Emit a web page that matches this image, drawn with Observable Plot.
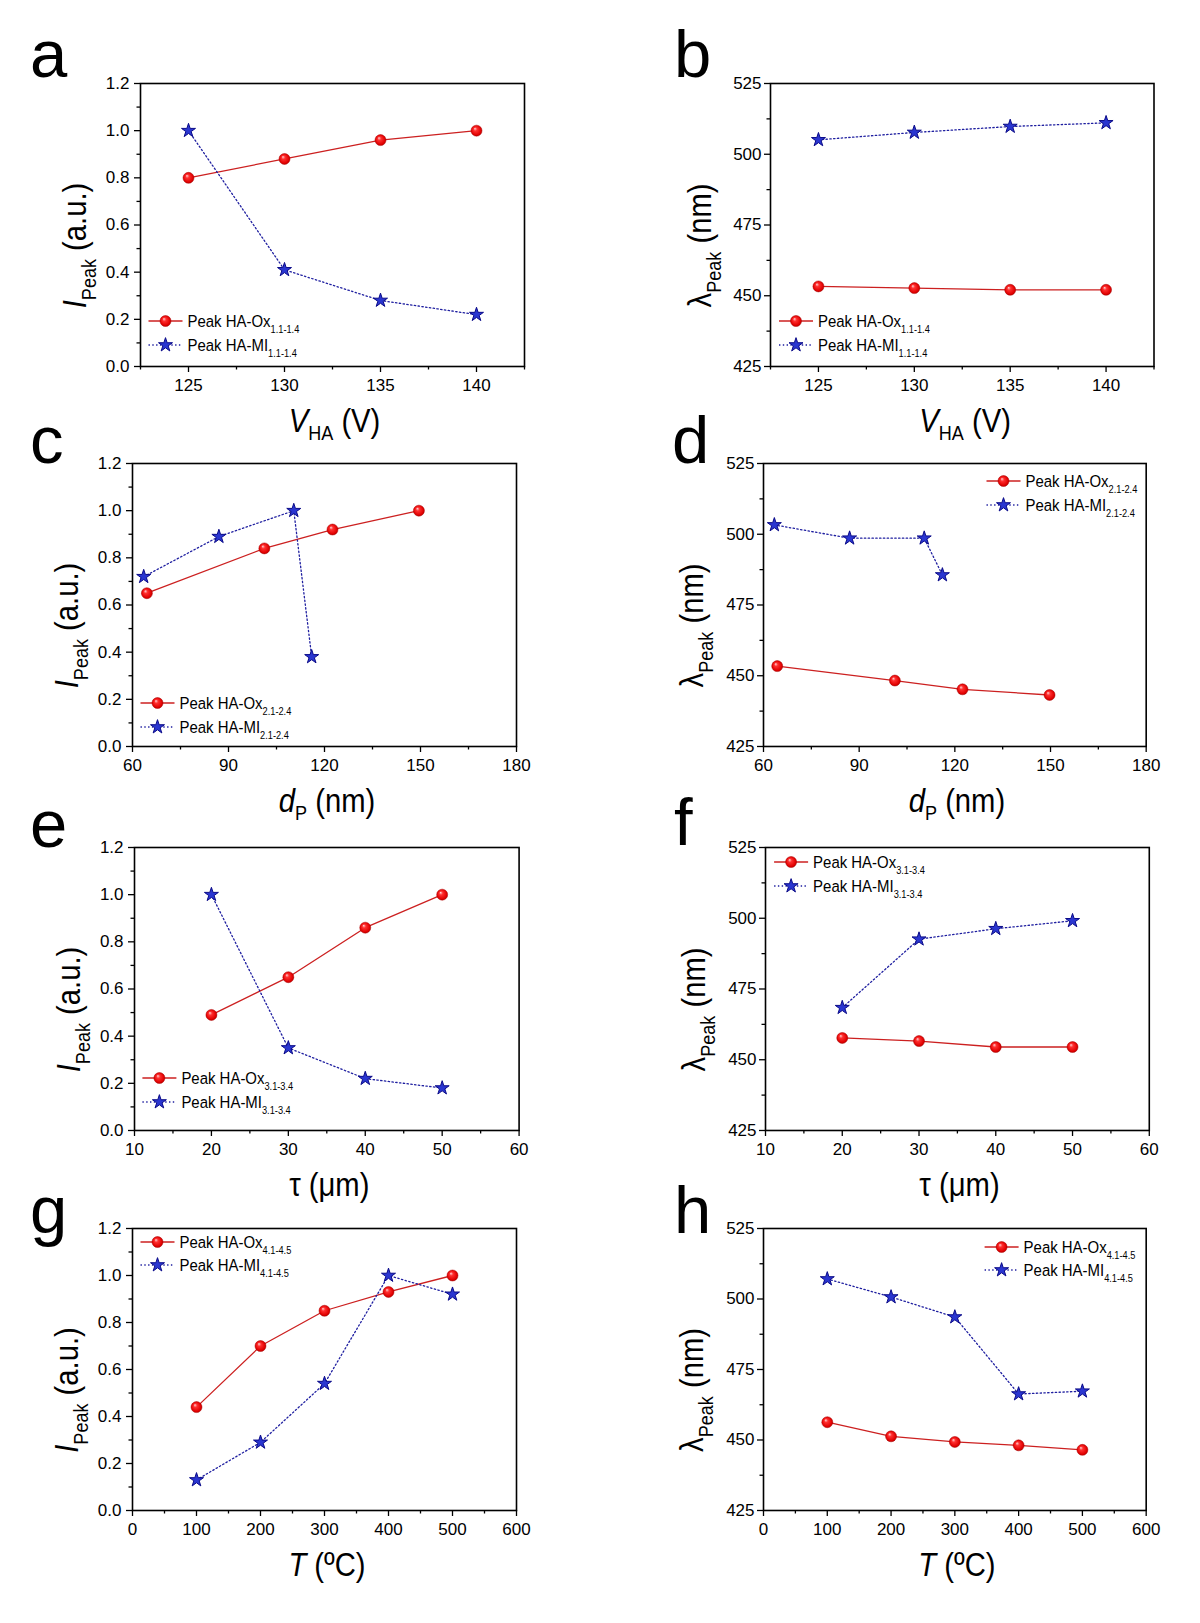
<!DOCTYPE html>
<html><head><meta charset="utf-8">
<script src="https://cdn.jsdelivr.net/npm/d3@7"></script>
<script src="https://cdn.jsdelivr.net/npm/@observablehq/plot@0.6"></script>
<style>
html,body{margin:0;padding:0;background:#fff;}
#page{position:relative;width:1200px;height:1623px;background:#fff;overflow:hidden;}
.panel{position:absolute;}
#overlay{position:absolute;left:0;top:0;pointer-events:none;}
</style></head><body><div id="page"></div>
<script>
// ---------- data ----------
const vHA = [125, 130, 135, 140];
const aOx = [0.80, 0.88, 0.96, 1.00];
const aMI = [1.00, 0.41, 0.28, 0.22];
const bOx = [453.3, 452.7, 452.1, 452.1];
const bMI = [505.1, 507.7, 509.8, 511.1];

const cOxX = [64.5, 101.2, 122.5, 149.5];
const cOx = [0.65, 0.84, 0.92, 1.00];
const cMIX = [63.5, 87.0, 110.4, 116.0];
const cMI = [0.72, 0.89, 1.00, 0.38];
const dOxX = [64.3, 101.2, 122.4, 149.7];
const dOx = [453.4, 448.3, 445.2, 443.2];
const dMIX = [63.4, 87.0, 110.4, 116.1];
const dMI = [503.3, 498.6, 498.6, 485.6];

const tau = [20, 30, 40, 50];
const eOx = [0.49, 0.65, 0.86, 1.00];
const eMI = [1.00, 0.35, 0.22, 0.18];
const fOx = [457.7, 456.6, 454.5, 454.5];
const fMI = [468.4, 492.6, 496.3, 499.1];

const temp = [100, 200, 300, 400, 500];
const gOx = [0.44, 0.70, 0.85, 0.93, 1.00];
const gMI = [0.13, 0.29, 0.54, 1.00, 0.92];
const hOx = [456.3, 451.3, 449.3, 448.1, 446.5];
const hMI = [507.1, 500.7, 493.6, 466.3, 467.3];

// ---------- ticks ----------
const xMajV = [125, 130, 135, 140], xMinV = [122.5, 127.5, 132.5, 137.5, 142.5];
const xMajD = [60, 90, 120, 150, 180], xMinD = [75, 105, 135, 165];
const xMajTau = [10, 20, 30, 40, 50, 60], xMinTau = [15, 25, 35, 45, 55];
const xMajT = [0, 100, 200, 300, 400, 500, 600], xMinT = [50, 150, 250, 350, 450, 550];
const yMajI = [0, 0.2, 0.4, 0.6, 0.8, 1.0, 1.2], yMinI = [0.1, 0.3, 0.5, 0.7, 0.9, 1.1];
const yMajL = [425, 450, 475, 500, 525], yMinL = [437.5, 462.5, 487.5, 512.5];

const legSubs = ["1.1-1.4", "2.1-2.4", "3.1-3.4", "4.1-4.5"];

// ---------- styling ----------
const FONT = "'Liberation Sans', Arial, Helvetica, sans-serif";
const RED = "#cc2020", BLUE = "#1f1fa0";
const STAR_FILL = "#2a36d0", STAR_STROKE = "#0a0a88";

const panels = [
  {id:"a", L:139.5,R:523.5,T:83,B:366, xo:vHA, yo:aOx, xm:vHA, ym:aMI, xDom:[122.5,142.5], xMaj:xMajV, xMin:xMinV, kind:"I", xt:"V", leg:[148.5,321,345], sub:0, letter:[30,77]},
  {id:"b", L:770.3,R:1153.8,T:83,B:366, xo:vHA, yo:bOx, xm:vHA, ym:bMI, xDom:[122.5,142.5], xMaj:xMajV, xMin:xMinV, kind:"L", xt:"V", leg:[779,321,345], sub:0, letter:[674,77]},
  {id:"c", L:132,R:516,T:463,B:746, xo:cOxX, yo:cOx, xm:cMIX, ym:cMI, xDom:[60,180], xMaj:xMajD, xMin:xMinD, kind:"I", xt:"d", leg:[140.5,703,727], sub:1, letter:[30,463]},
  {id:"d", L:762.6,R:1145.3,T:463,B:746, xo:dOxX, yo:dOx, xm:dMIX, ym:dMI, xDom:[60,180], xMaj:xMajD, xMin:xMinD, kind:"L", xt:"d", leg:[986.5,481,505], sub:1, letter:[672,463]},
  {id:"e", L:134,R:518.6,T:847,B:1130, xo:tau, yo:eOx, xm:tau, ym:eMI, xDom:[10,60], xMaj:xMajTau, xMin:xMinTau, kind:"I", xt:"tau", leg:[142.4,1078,1102], sub:2, letter:[30,847]},
  {id:"f", L:764.6,R:1148.4,T:847,B:1130, xo:tau, yo:fOx, xm:tau, ym:fMI, xDom:[10,60], xMaj:xMajTau, xMin:xMinTau, kind:"L", xt:"tau", leg:[774.1,862,886], sub:2, letter:[674,845]},
  {id:"g", L:132,R:516,T:1228,B:1510, xo:temp, yo:gOx, xm:temp, ym:gMI, xDom:[0,600], xMaj:xMajT, xMin:xMinT, kind:"I", xt:"T", leg:[140.5,1242,1265], sub:3, letter:[30,1233]},
  {id:"h", L:762.6,R:1145.3,T:1228,B:1510, xo:temp, yo:hOx, xm:temp, ym:hMI, xDom:[0,600], xMaj:xMajT, xMin:xMinT, kind:"L", xt:"T", leg:[984.6,1247,1270], sub:3, letter:[674,1233]}
];

const page = document.getElementById("page");
const mL = 60, mR = 14, mT = 14, mB = 44;

function sphereDefs(id) {
  return () => {
    const defs = d3.create("svg:defs");
    const g = defs.append("radialGradient").attr("id", id)
      .attr("cx", "50%").attr("cy", "50%").attr("r", "55%")
      .attr("fx", "35%").attr("fy", "30%");
    g.append("stop").attr("offset", "0%").attr("stop-color", "#ffd6d6");
    g.append("stop").attr("offset", "30%").attr("stop-color", "#ff3030");
    g.append("stop").attr("offset", "80%").attr("stop-color", "#e00000");
    g.append("stop").attr("offset", "100%").attr("stop-color", "#a00000");
    return defs.node();
  };
}

for (const p of panels) {
  const W = p.R - p.L, H = p.B - p.T;
  const yDom = p.kind === "I" ? [0, 1.2] : [425, 525];
  const yMaj = p.kind === "I" ? yMajI : yMajL;
  const yMin = p.kind === "I" ? yMinI : yMinL;
  const yFmt = p.kind === "I" ? d3.format(".1f") : d3.format("d");
  const ox = p.xo.map((x, i) => ({x, y: p.yo[i]}));
  const mi = p.xm.map((x, i) => ({x, y: p.ym[i]}));
  const gid = "sph-" + p.id;
  const svg = Plot.plot({
    width: W + mL + mR, height: H + mT + mB,
    marginLeft: mL, marginRight: mR, marginTop: mT, marginBottom: mB,
    x: {domain: p.xDom, label: null},
    y: {domain: yDom, label: null},
    style: {fontFamily: FONT, fontSize: "17px", color: "black", background: "transparent", overflow: "visible"},
    marks: [
      sphereDefs(gid),
      Plot.axisX(p.xMin, {tickSize: 3.5, tickFormat: () => "", strokeWidth: 1.3, label: null}),
      Plot.axisX(p.xMaj, {tickSize: 6, tickPadding: 6, tickFormat: d3.format("d"), strokeWidth: 1.3, fontSize: 17, label: null}),
      Plot.axisY(yMin, {tickSize: 3.5, tickFormat: () => "", strokeWidth: 1.3, label: null}),
      Plot.axisY(yMaj, {tickSize: 6, tickPadding: p.kind === "I" ? 5 : 3, tickFormat: yFmt, strokeWidth: 1.3, fontSize: 17, label: null}),
      Plot.line(ox, {x: "x", y: "y", stroke: RED, strokeWidth: 1.3}),
      Plot.line(mi, {x: "x", y: "y", stroke: BLUE, strokeWidth: 1.3, strokeDasharray: "1.4,2.4"}),
      Plot.dot(ox, {x: "x", y: "y", r: 5.5, fill: `url(#${gid})`, stroke: "#b00000", strokeWidth: 0.5}),
      Plot.dot(mi, {x: "x", y: "y", symbol: "star", r: 4.4, fill: STAR_FILL, stroke: STAR_STROKE, strokeWidth: 1}),
      Plot.frame({stroke: "black", strokeWidth: 1.6})
    ]
  });
  const div = document.createElement("div");
  div.className = "panel";
  div.style.left = (p.L - mL) + "px";
  div.style.top = (p.T - mT) + "px";
  div.style.width = (W + mL + mR) + "px";
  div.appendChild(svg);
  page.appendChild(div);
}

// ---------- overlay text: letters, axis titles, legends ----------
const ov = d3.select(page).append("svg").attr("id", "overlay")
  .attr("width", 1200).attr("height", 1623)
  .attr("font-family", FONT).attr("fill", "black");

function addParts(textSel, parts, subSize, shift) {
  let pending = 0;
  for (const pt of parts) {
    const t = textSel.append("tspan").text(pt.t);
    if (pt.sub) {
      t.attr("font-size", subSize).attr("dy", shift);
      pending = -shift;
    } else {
      if (pending) t.attr("dy", pending);
      pending = 0;
      if (pt.it) t.attr("font-style", "italic");
    }
  }
}

const xTitles = {
  V: [{t:"V", it:true}, {t:"HA", sub:true}, {t:" (V)"}],
  d: [{t:"d", it:true}, {t:"P", sub:true}, {t:" (nm)"}],
  tau: [{t:"\u03C4 (\u03BCm)"}],
  T: [{t:"T", it:true}, {t:" (\u00BAC)"}]
};
const yTitles = {
  I: [{t:"I", it:true}, {t:"Peak", sub:true}, {t:" (a.u.)"}],
  L: [{t:"\u03BB"}, {t:"Peak", sub:true}, {t:" (nm)"}]
};
const TS = 0.86; // horizontal condensation of titles

for (const p of panels) {
  // panel letter
  ov.append("text").attr("x", p.letter[0]).attr("y", p.letter[1])
    .attr("font-size", 67).text(p.id);
  // x title
  const xt = ov.append("text")
    .attr("transform", `translate(${(p.L + p.R) / 2 + 3},${p.B + 66}) scale(${TS},1)`)
    .attr("text-anchor", "middle").attr("font-size", 34);
  addParts(xt, xTitles[p.xt], 21, 8);
  // y title
  const bx = p.kind === "I" ? p.L - 54 : p.L - 59.5;
  const cy = (p.T + p.B) / 2 + 21;
  const yt = ov.append("text")
    .attr("transform", `translate(${bx},${cy}) rotate(-90) scale(${TS},1)`)
    .attr("text-anchor", "middle").attr("font-size", 34);
  addParts(yt, yTitles[p.kind], 21, 10);
  // legend
  const [lx, y1, y2] = p.leg;
  const rows = [
    {y: y1, name: "Peak HA-Ox", red: true},
    {y: y2, name: "Peak HA-MI", red: false}
  ];
  for (const r of rows) {
    ov.append("line").attr("x1", lx).attr("x2", lx + 34).attr("y1", r.y).attr("y2", r.y)
      .attr("stroke", r.red ? RED : BLUE).attr("stroke-width", 1.3)
      .attr("stroke-dasharray", r.red ? null : "1.4,2.4");
    if (r.red) {
      ov.append("circle").attr("cx", lx + 17).attr("cy", r.y).attr("r", 5.5)
        .attr("fill", `url(#sph-${p.id})`).attr("stroke", "#b00000").attr("stroke-width", 0.5);
    } else {
      ov.append("path").attr("d", d3.symbol(d3.symbolStar, Math.PI * 4.4 * 4.4)())
        .attr("transform", `translate(${lx + 17},${r.y})`)
        .attr("fill", STAR_FILL).attr("stroke", STAR_STROKE).attr("stroke-width", 1);
    }
    const t = ov.append("text")
      .attr("transform", `translate(${lx + 39},${r.y + 5.5}) scale(0.88,1)`)
      .attr("font-size", 17);
    t.append("tspan").text(r.name);
    t.append("tspan").attr("font-size", 10.5).attr("dy", 6).text(legSubs[p.sub]);
  }
}
</script></body></html>
